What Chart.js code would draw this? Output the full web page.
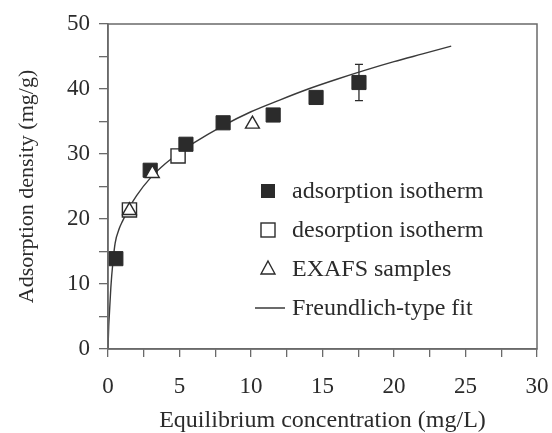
<!DOCTYPE html>
<html>
<head>
<meta charset="utf-8">
<script src="https://cdn.jsdelivr.net/npm/chart.js@4"></script>
<style>
  html, body { margin: 0; padding: 0; background: #fff; }
  #wrap { width: 552px; height: 433px; }
</style>
</head>
<body>
<div id="wrap"><canvas id="myChart"></canvas></div>
<script>
// adsorption / desorption isotherm data
var adsX = [0.55, 2.95, 5.45, 8.05, 11.55, 14.55, 17.55];
var adsY = [13.9, 27.5, 31.5, 34.8, 36.0, 38.7, 41.0];
var adsErr = [0, 0, 0, 0, 0, 0, 2.8];

var desX = [1.5, 4.9];
var desY = [21.4, 29.7];

var exafsX = [1.5, 3.1, 10.1];
var exafsY = [21.3, 27.0, 34.6];

// fit curve
var fitX = [0, 0.05, 0.1, 0.2, 0.35, 0.5, 0.8, 1, 1.5, 2, 3, 4, 5, 6, 8, 10, 12, 14, 16, 18, 20, 22, 24];
var fitY = [0, 3.5, 5.5, 9.5, 13.5, 16.3, 18.6, 19.6, 21.8, 23.6, 26.4, 28.5, 30.2, 31.7, 34.3, 36.5, 38.3, 40.0, 41.5, 42.9, 44.2, 45.4, 46.6];

var legendNames = ['adsorption isotherm', 'desorption isotherm', 'EXAFS samples', 'Freundlich-type fit'];

var ink = '#2b2b2b';
var axisColor = '#6a6a6a';
var serif = "'Liberation Serif', 'DejaVu Serif', serif";

function pts(xs, ys) {
    return xs.map(function (x, i) { return { x: x, y: ys[i] }; });
}

var boxPlugin = {
    id: 'boxAndBars',
    beforeDatasetsDraw: function (chart) {
        var ctx = chart.ctx, xs = chart.scales.x, ys = chart.scales.y;
        ctx.save();
        ctx.strokeStyle = ink;
        ctx.lineWidth = 1.3;
        adsX.forEach(function (x, i) {
            if (!adsErr[i]) return;
            var px = xs.getPixelForValue(x);
            var top = ys.getPixelForValue(adsY[i] + adsErr[i]);
            var bot = ys.getPixelForValue(adsY[i] - adsErr[i]);
            ctx.beginPath();
            ctx.moveTo(px, top); ctx.lineTo(px, bot);
            ctx.moveTo(px - 4, top); ctx.lineTo(px + 4, top);
            ctx.moveTo(px - 4, bot); ctx.lineTo(px + 4, bot);
            ctx.stroke();
        });
        ctx.restore();
    },
    afterDraw: function (chart) {
        var ctx = chart.ctx, a = chart.chartArea;
        ctx.save();
        ctx.strokeStyle = axisColor;
        ctx.lineWidth = 1.5;
        ctx.strokeRect(a.left, a.top, a.right - a.left, a.bottom - a.top);

        // legend inside the plot
        var rows = [191, 230, 269, 308];
        var mx = 268, tx = 292;
        ctx.font = '24px ' + serif;
        ctx.fillStyle = ink;
        ctx.textBaseline = 'middle';
        ctx.textAlign = 'left';
        // filled square
        ctx.fillRect(mx - 7, rows[0] - 7, 14, 14);
        // open square
        ctx.strokeStyle = ink;
        ctx.lineWidth = 1.4;
        ctx.fillStyle = '#fff';
        ctx.fillRect(mx - 7, rows[1] - 7, 14, 14);
        ctx.strokeRect(mx - 7, rows[1] - 7, 14, 14);
        // triangle
        ctx.beginPath();
        ctx.moveTo(mx, rows[2] - 8);
        ctx.lineTo(mx + 7, rows[2] + 5);
        ctx.lineTo(mx - 7, rows[2] + 5);
        ctx.closePath();
        ctx.fill();
        ctx.stroke();
        // line
        ctx.beginPath();
        ctx.moveTo(255, rows[3]);
        ctx.lineTo(285, rows[3]);
        ctx.stroke();
        ctx.fillStyle = ink;
        legendNames.forEach(function (name, i) {
            ctx.fillText(name, tx, rows[i] + 1);
        });
        ctx.restore();
    }
};

var ctx = document.getElementById('myChart').getContext('2d');
var myChart = new Chart(ctx, {
    type: 'scatter',
    data: {
        datasets: [{
            label: legendNames[2],
            data: pts(exafsX, exafsY),
            pointStyle: 'triangle',
            pointRadius: 8,
            pointBackgroundColor: '#fff',
            pointBorderColor: ink,
            pointBorderWidth: 1.4,
            order: 0
        }, {
            label: legendNames[0],
            data: pts(adsX, adsY),
            pointStyle: 'rect',
            pointRadius: 10,
            pointBackgroundColor: ink,
            pointBorderColor: ink,
            pointBorderWidth: 1,
            order: 1
        }, {
            label: legendNames[1],
            data: pts(desX, desY),
            pointStyle: 'rect',
            pointRadius: 10,
            pointBackgroundColor: '#fff',
            pointBorderColor: ink,
            pointBorderWidth: 1.4,
            order: 2
        }, {
            type: 'line',
            label: legendNames[3],
            data: pts(fitX, fitY),
            showLine: true,
            pointRadius: 0,
            borderColor: '#3a3a3a',
            borderWidth: 1.4,
            cubicInterpolationMode: 'monotone',
            fill: false,
            order: 3
        }]
    },
    options: {
        responsive: true,
        maintainAspectRatio: false,
        animation: false,
        layout: { padding: { top: 24, right: 15, left: 0, bottom: 0 } },
        plugins: {
            legend: { display: false },
            tooltip: { enabled: false }
        },
        scales: {
            x: {
                type: 'linear',
                min: 0, max: 30,
                afterFit: function (s) {
                    s.height = 84;
                    s.paddingLeft = 0;
                    s.paddingRight = 0;
                },
                ticks: {
                    stepSize: 2.5,
                    autoSkip: false,
                    maxRotation: 0,
                    padding: 16,
                    color: ink,
                    font: { family: serif, size: 23 },
                    callback: function (v) { return v % 5 === 0 ? v : ''; }
                },
                grid: { drawOnChartArea: false, drawTicks: true, tickLength: 8, color: axisColor, lineWidth: 1.3 },
                border: { color: axisColor, width: 1.5 },
                title: {
                    display: true,
                    text: 'Equilibrium concentration (mg/L)',
                    color: ink,
                    font: { family: serif, size: 24 },
                    padding: { top: 0, bottom: -2 }
                }
            },
            y: {
                type: 'linear',
                min: 0, max: 50,
                afterFit: function (s) {
                    s.width = 108;
                    s.paddingTop = 0;
                    s.paddingBottom = 0;
                },
                ticks: {
                    stepSize: 5,
                    autoSkip: false,
                    padding: 9,
                    color: ink,
                    font: { family: serif, size: 23 },
                    callback: function (v) { return v % 10 === 0 ? v : ''; }
                },
                grid: { drawOnChartArea: false, drawTicks: true, tickLength: 9, color: axisColor, lineWidth: 1.3 },
                border: { color: axisColor, width: 1.5 },
                title: {
                    display: true,
                    text: 'Adsorption density (mg/g)',
                    color: ink,
                    font: { family: serif, size: 22 },
                    padding: { top: 14, bottom: 0 }
                }
            }
        }
    },
    plugins: [boxPlugin]
});
</script>
</body>
</html>
